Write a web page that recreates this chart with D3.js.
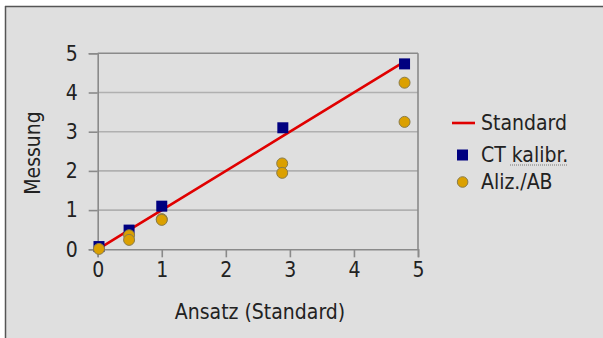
<!DOCTYPE html>
<html><head><meta charset="utf-8">
<script src="https://cdn.jsdelivr.net/npm/d3@7"></script>
<style>body{margin:0;background:#fff}svg{display:block}</style>
</head><body>
<script>
const xTicks = [0,1,2,3,4,5];
const yTicks = [0,1,2,3,4,5];
const standardX = [0, 0.5, 1, 2.9, 4.75];
const standardY = [0, 0.5, 1, 2.9, 4.75];
const ctX = [0.02, 0.49, 1.0, 2.89, 4.79];
const ctY = [0.07, 0.49, 1.1, 3.1, 4.73];
const alizX = [0.02, 0.49, 0.49, 1.0, 1.0, 2.88, 2.88, 4.79, 4.79];
const alizY = [0.01, 0.36, 0.24, 0.77, 0.75, 2.19, 1.95, 4.25, 3.25];
const legendLabels = ["Standard", "CT kalibr.", "Aliz./AB"];

const W = 603, H = 338;
const font = "'DejaVu Sans Condensed', 'DejaVu Sans'";
const fs = 21;
const svg = d3.select("body").append("svg").attr("width", W).attr("height", H);
svg.append("rect").attr("x",5).attr("y",6).attr("width",W-5).attr("height",H-6).attr("fill","#dfdfdf");
svg.append("line").attr("x1",5).attr("x2",W).attr("y1",6.5).attr("y2",6.5).attr("stroke","#555").attr("stroke-width",1.5);
svg.append("line").attr("x1",5.5).attr("x2",5.5).attr("y1",6).attr("y2",H).attr("stroke","#555").attr("stroke-width",1.5);

const x = d3.scaleLinear().domain([0,5]).range([97.7, 418]);
const y = d3.scaleLinear().domain([0,5]).range([249.3, 53.3]);

// gridlines
svg.append("g").selectAll("line").data(yTicks.filter(d=>d>0)).join("line")
  .attr("x1", x(0)).attr("x2", x(5)).attr("y1", d=>y(d)).attr("y2", d=>y(d))
  .attr("stroke", d=> d===5 ? "#8a8a8a" : "#b0b0b0").attr("stroke-width", 1.6);
// right frame
svg.append("line").attr("x1",x(5)).attr("x2",x(5)).attr("y1",y(5)).attr("y2",y(0)).attr("stroke","#8a8a8a").attr("stroke-width",1.6);

const xAxis = svg.append("g").attr("transform",`translate(0,${y(0)})`)
  .call(d3.axisBottom(x).tickValues(xTicks).tickSize(8).tickPadding(5).tickFormat(d3.format("d")));
const yAxis = svg.append("g").attr("transform",`translate(${x(0)},0)`)
  .call(d3.axisLeft(y).tickValues(yTicks).tickSize(9).tickPadding(11).tickFormat(d3.format("d")));
[xAxis,yAxis].forEach(a=>{
  a.select(".domain").attr("stroke","#8a8a8a").attr("stroke-width",1.6);
  a.selectAll(".tick line").attr("stroke","#8a8a8a").attr("stroke-width",1.6);
  a.selectAll("text").attr("font-family",font).attr("font-size",fs).attr("fill","#222");
});

// axis titles
svg.append("text").attr("x", 260).attr("y", 312).attr("text-anchor","middle").attr("dominant-baseline","central")
  .attr("font-family",font).attr("font-size",fs).attr("fill","#222").text("Ansatz (Standard)");
svg.append("text").attr("transform","translate(33,153) rotate(-90)").attr("text-anchor","middle").attr("dominant-baseline","central")
  .attr("font-family",font).attr("font-size",fs).attr("fill","#222").text("Messung");

// standard line
const stdData = standardX.map((v,i)=>[v, standardY[i]]);
svg.append("path").datum(stdData).attr("fill","none").attr("stroke","#e00000").attr("stroke-width",2.6)
  .attr("d", d3.line().x(d=>x(d[0])).y(d=>y(d[1])));

// CT squares
const ctData = ctX.map((v,i)=>[v, ctY[i]]);
svg.append("g").selectAll("rect").data(ctData).join("rect")
  .attr("x", d=>x(d[0])-5.5).attr("y", d=>y(d[1])-5.5).attr("width",11).attr("height",11)
  .attr("fill","#000080");

// aliz circles (drawn on top)
const alizData = alizX.map((v,i)=>[v, alizY[i]]);
svg.append("g").selectAll("circle").data(alizData).join("circle")
  .attr("cx", d=>x(d[0])).attr("cy", d=>y(d[1])).attr("r", 5.5)
  .attr("fill","#dba000").attr("stroke","#8a7c4a").attr("stroke-width",1);

// legend
const lg = svg.append("g");
const ly = [123, 155, 182];
lg.append("line").attr("x1",452).attr("x2",475).attr("y1",ly[0]).attr("y2",ly[0]).attr("stroke","#e00000").attr("stroke-width",2.6);
lg.append("rect").attr("x",457).attr("y",ly[1]-5.5).attr("width",11).attr("height",11).attr("fill","#000080");
lg.append("circle").attr("cx",462.6).attr("cy",ly[2]).attr("r",5.3).attr("fill","#dba000").attr("stroke","#8a7c4a").attr("stroke-width",1);
lg.selectAll("text").data(legendLabels).join("text")
  .attr("x",481).attr("y",(d,i)=>ly[i]).attr("dominant-baseline","central")
  .attr("font-family",font).attr("font-size",fs).attr("fill","#222").text(d=>d);
lg.append("line").attr("x1",510).attr("x2",567).attr("y1",165).attr("y2",165)
  .attr("stroke","#777").attr("stroke-width",1).attr("stroke-dasharray","1,1");
</script>
</body></html>
